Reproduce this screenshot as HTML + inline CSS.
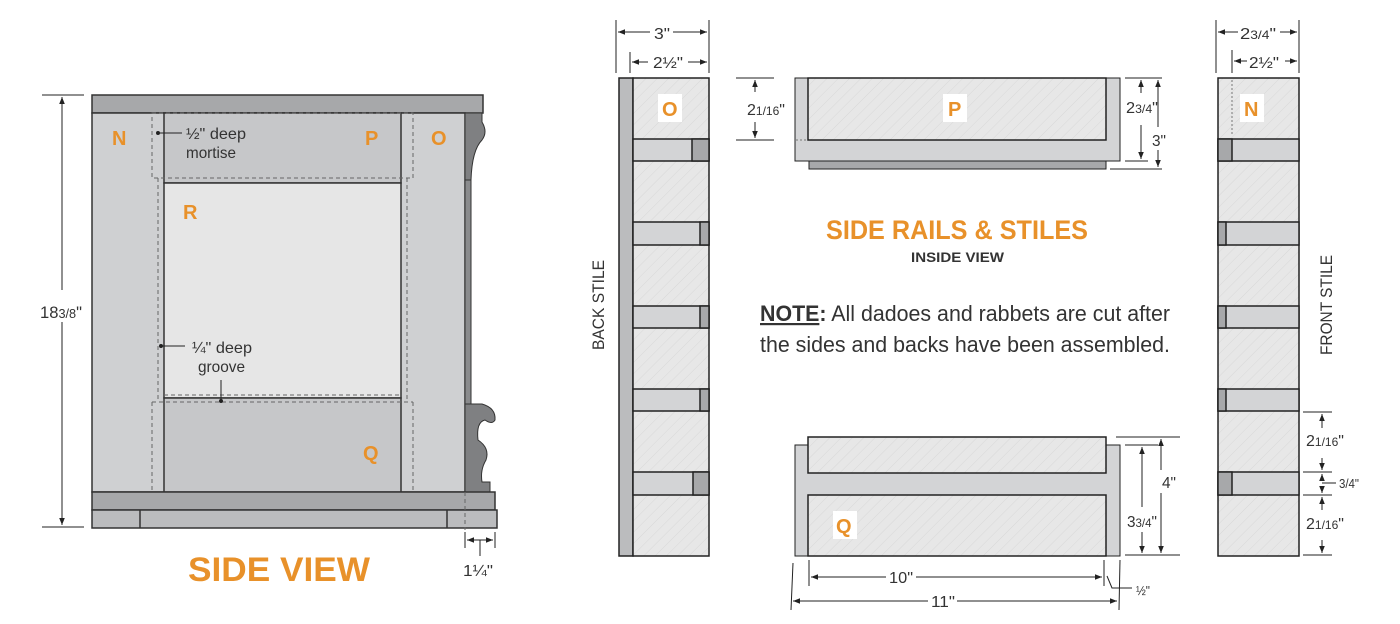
<!DOCTYPE html>
<html><head><meta charset="utf-8"><style>
html,body{margin:0;padding:0;background:#fff}
svg{display:block}
text{font-family:"Liberation Sans Narrow","Liberation Sans",sans-serif;fill:#333}
.o{fill:#e8912a;font-family:"Liberation Sans",sans-serif;font-weight:bold}
</style></head><body>
<svg width="1400" height="624" viewBox="0 0 1400 624" xmlns="http://www.w3.org/2000/svg">
<defs>
<pattern id="h" width="8" height="8" patternUnits="userSpaceOnUse" patternTransform="rotate(45)">
<rect width="8" height="8" fill="#e7e7e7"/><line x1="0" y1="0" x2="0" y2="8" stroke="#d8d8d8" stroke-width="1"/>
</pattern>
<marker id="a" viewBox="0 0 10 10" refX="10" refY="5" markerWidth="7" markerHeight="7" orient="auto-start-reverse"><path d="M0,1 L10,5 L0,9z" fill="#222"/></marker>
</defs>
<g stroke="#333" stroke-width="1.5">
<rect x="92" y="95" width="391" height="18" fill="#a7a8aa"/>
<rect x="92" y="113" width="373" height="379" fill="#cfd0d2"/>
<rect x="164" y="113" width="237" height="70" fill="#c6c7c9"/>
<rect x="164" y="183" width="237" height="215" fill="#e6e6e6"/>
<rect x="164" y="398" width="237" height="94" fill="#c6c7c9"/>
<rect x="465" y="113" width="6" height="379" fill="#8a8b8d" stroke-width="1"/>
<path d="M465,113 L482,113 L482,122 Q488,132 482,140 Q472,150 471,180 L465,180Z" fill="#7f8082" stroke-width="1"/>
<path d="M465,404 L482,404 Q496,408 495,420 Q492,425 485,420 Q476,422 478,440 Q490,448 486,460 Q480,470 482,482 L490,482 L490,492 L465,492Z" fill="#7f8082" stroke-width="1"/>
<rect x="92" y="492" width="403" height="18" fill="#a7a8aa"/>
<rect x="92" y="510" width="405" height="18" fill="#bbbcbe"/>
<line x1="140" y1="510" x2="140" y2="528"/><line x1="447" y1="510" x2="447" y2="528"/>
</g>
<g stroke="#666" stroke-width="1" stroke-dasharray="4,3" fill="none">
<rect x="152" y="113" width="261" height="65"/>
<path d="M152,402 L413,402 M152,402 L152,492 M413,402 L413,492"/>
<path d="M158,178 L158,402 M407,178 L407,402 M164,395 L401,395"/>
<path d="M465,492 L465,530"/>
</g>
<g stroke="#222" stroke-width="1">
<line x1="42" y1="95" x2="84" y2="95"/><line x1="42" y1="527" x2="84" y2="527"/>
<line x1="62" y1="97" x2="62" y2="290" marker-start="url(#a)"/><line x1="62" y1="322" x2="62" y2="525" marker-end="url(#a)"/>
<line x1="158" y1="133" x2="182" y2="133"/><circle cx="158" cy="133" r="1.5" fill="#222"/>
<line x1="161" y1="346" x2="185" y2="346"/><circle cx="161" cy="346" r="1.5" fill="#222"/>
<line x1="221" y1="380" x2="221" y2="401"/><circle cx="221" cy="401" r="1.5" fill="#222"/>
<line x1="465" y1="532" x2="465" y2="548"/><line x1="495" y1="532" x2="495" y2="548"/>
<line x1="467" y1="540" x2="493" y2="540" marker-start="url(#a)" marker-end="url(#a)"/>
<line x1="480" y1="540" x2="480" y2="556"/>
</g>
<text x="40" y="318" font-size="17" textLength="42" lengthAdjust="spacingAndGlyphs">18<tspan font-size="13">3/8</tspan>"</text>
<text x="186" y="139" font-size="16" textLength="60" lengthAdjust="spacingAndGlyphs">½" deep</text><text x="186" y="158" font-size="16" textLength="50" lengthAdjust="spacingAndGlyphs">mortise</text>
<text x="192" y="353" font-size="16" textLength="60" lengthAdjust="spacingAndGlyphs">¼" deep</text><text x="198" y="372" font-size="16" textLength="47" lengthAdjust="spacingAndGlyphs">groove</text>
<text x="463" y="576" font-size="16" textLength="30" lengthAdjust="spacingAndGlyphs">1¼"</text>
<text class="o" x="112" y="145" font-size="20">N</text>
<text class="o" x="365" y="145" font-size="20">P</text>
<text class="o" x="431" y="145" font-size="20">O</text>
<text class="o" x="183" y="219" font-size="20">R</text>
<text class="o" x="363" y="460" font-size="20">Q</text>
<text class="o" x="188" y="581" font-size="34" textLength="182" lengthAdjust="spacingAndGlyphs">SIDE VIEW</text>

<g stroke="#222" stroke-width="1.5">
<rect x="619" y="78" width="14" height="478" fill="#bbbcbe"/>
<rect x="633" y="78" width="76" height="478" fill="url(#h)"/>
<g fill="#d3d4d6">
<rect x="633" y="139" width="76" height="22"/><rect x="633" y="222" width="76" height="23"/>
<rect x="633" y="306" width="76" height="22"/><rect x="633" y="389" width="76" height="22"/>
<rect x="633" y="472" width="76" height="23"/>
</g>
<g fill="#a7a8aa">
<rect x="692" y="139" width="17" height="22"/><rect x="700" y="222" width="9" height="23"/>
<rect x="700" y="306" width="9" height="22"/><rect x="700" y="389" width="9" height="22"/>
<rect x="693" y="472" width="16" height="23"/>
</g>
<rect x="1218" y="78" width="81" height="478" fill="url(#h)"/>
<g fill="#d3d4d6">
<rect x="1218" y="139" width="81" height="22"/><rect x="1218" y="222" width="81" height="23"/>
<rect x="1218" y="306" width="81" height="22"/><rect x="1218" y="389" width="81" height="22"/>
<rect x="1218" y="472" width="81" height="23"/>
</g>
<g fill="#a7a8aa">
<rect x="1218" y="139" width="14" height="22"/><rect x="1218" y="222" width="8" height="23"/>
<rect x="1218" y="306" width="8" height="22"/><rect x="1218" y="389" width="8" height="22"/>
<rect x="1218" y="472" width="14" height="23"/>
</g>
<rect x="795" y="78" width="325" height="83" fill="#d3d4d6" stroke-width="1"/>
<rect x="809" y="161" width="297" height="8" fill="#a7a8aa" stroke-width="1"/>
<rect x="808" y="78" width="298" height="62" fill="url(#h)"/>
<rect x="795" y="445" width="325" height="111" fill="#d3d4d6" stroke-width="1"/>
<rect x="808" y="437" width="298" height="36" fill="url(#h)"/>
<rect x="808" y="495" width="298" height="61" fill="url(#h)"/>
</g>
<line x1="1232" y1="80" x2="1232" y2="135" stroke="#777" stroke-dasharray="2,2"/>
<line x1="796" y1="140" x2="806" y2="140" stroke="#777" stroke-dasharray="2,2"/>
<g fill="#fff"><rect x="658" y="94" width="24" height="28"/><rect x="1240" y="94" width="24" height="28"/><rect x="943" y="94" width="24" height="28"/><rect x="833" y="511" width="24" height="28"/></g>
<text class="o" x="662" y="116" font-size="20">O</text>
<text class="o" x="1244" y="116" font-size="20">N</text>
<text class="o" x="948" y="116" font-size="20">P</text>
<text class="o" x="836" y="533" font-size="20">Q</text>

<g stroke="#222" stroke-width="1">
<line x1="616" y1="20" x2="616" y2="73"/><line x1="709" y1="20" x2="709" y2="73"/><line x1="630" y1="52" x2="630" y2="73"/>
<line x1="618" y1="32" x2="650" y2="32" marker-start="url(#a)"/><line x1="673" y1="32" x2="707" y2="32" marker-end="url(#a)"/>
<line x1="632" y1="62" x2="648" y2="62" marker-start="url(#a)"/><line x1="688" y1="62" x2="707" y2="62" marker-end="url(#a)"/>
<line x1="1216" y1="20" x2="1216" y2="73"/><line x1="1299" y1="20" x2="1299" y2="73"/><line x1="1232" y1="50" x2="1232" y2="73"/>
<line x1="1218" y1="32" x2="1238" y2="32" marker-start="url(#a)"/><line x1="1280" y1="32" x2="1297" y2="32" marker-end="url(#a)"/>
<line x1="1234" y1="61" x2="1247" y2="61" marker-start="url(#a)"/><line x1="1285" y1="61" x2="1297" y2="61" marker-end="url(#a)"/>
<line x1="736" y1="78" x2="774" y2="78"/><line x1="736" y1="140" x2="774" y2="140"/>
<line x1="755" y1="80" x2="755" y2="92" marker-start="url(#a)"/><line x1="755" y1="122" x2="755" y2="138" marker-end="url(#a)"/>
<line x1="1125" y1="78" x2="1162" y2="78"/><line x1="1125" y1="161" x2="1148" y2="161"/><line x1="1110" y1="169" x2="1162" y2="169"/>
<line x1="1141" y1="80" x2="1141" y2="93" marker-start="url(#a)"/><line x1="1141" y1="125" x2="1141" y2="159" marker-end="url(#a)"/>
<line x1="1158" y1="80" x2="1158" y2="127" marker-start="url(#a)"/><line x1="1158" y1="150" x2="1158" y2="167" marker-end="url(#a)"/>
<line x1="1116" y1="437" x2="1180" y2="437"/><line x1="1125" y1="445" x2="1158" y2="445"/><line x1="1125" y1="555" x2="1180" y2="555"/>
<line x1="1142" y1="447" x2="1142" y2="507" marker-start="url(#a)"/><line x1="1142" y1="532" x2="1142" y2="553" marker-end="url(#a)"/>
<line x1="1161" y1="439" x2="1161" y2="470" marker-start="url(#a)"/><line x1="1161" y1="493" x2="1161" y2="553" marker-end="url(#a)"/>
<line x1="809" y1="560" x2="809" y2="586"/><line x1="1104" y1="560" x2="1104" y2="586"/><line x1="1120" y1="560" x2="1119" y2="610"/><line x1="793" y1="563" x2="791" y2="610"/>
<line x1="811" y1="577" x2="886" y2="577" marker-start="url(#a)"/><line x1="916" y1="577" x2="1102" y2="577" marker-end="url(#a)"/>
<line x1="793" y1="601" x2="928" y2="601" marker-start="url(#a)"/><line x1="957" y1="601" x2="1117" y2="601" marker-end="url(#a)"/>
<path d="M1107,576 L1112,588 L1132,588" fill="none"/>
<line x1="1303" y1="412" x2="1332" y2="412"/><line x1="1303" y1="472" x2="1332" y2="472"/><line x1="1303" y1="495" x2="1332" y2="495"/><line x1="1303" y1="555" x2="1332" y2="555"/>
<line x1="1322" y1="414" x2="1322" y2="428" marker-start="url(#a)"/><line x1="1322" y1="458" x2="1322" y2="470" marker-end="url(#a)"/>
<line x1="1322" y1="497" x2="1322" y2="510" marker-start="url(#a)"/><line x1="1322" y1="540" x2="1322" y2="553" marker-end="url(#a)"/>
<line x1="1322" y1="474" x2="1322" y2="480" marker-start="url(#a)"/><line x1="1322" y1="487" x2="1322" y2="493" marker-end="url(#a)"/>
<line x1="1322" y1="483" x2="1336" y2="483"/>
</g>
<text x="654" y="39" font-size="16" textLength="16" lengthAdjust="spacingAndGlyphs">3"</text>
<text x="653" y="68" font-size="16" textLength="30" lengthAdjust="spacingAndGlyphs">2½"</text>
<text x="1240" y="39" font-size="16" textLength="36" lengthAdjust="spacingAndGlyphs">2<tspan font-size="12">3/4</tspan>"</text>
<text x="1249" y="68" font-size="16" textLength="30" lengthAdjust="spacingAndGlyphs">2½"</text>
<text x="747" y="115" font-size="16" textLength="38" lengthAdjust="spacingAndGlyphs">2<tspan font-size="12">1/16</tspan>"</text>
<text x="1126" y="113" font-size="16" textLength="32" lengthAdjust="spacingAndGlyphs">2<tspan font-size="12">3/4</tspan>"</text>
<text x="1152" y="146" font-size="16" textLength="14" lengthAdjust="spacingAndGlyphs">3"</text>
<text x="1162" y="488" font-size="16" textLength="14" lengthAdjust="spacingAndGlyphs">4"</text>
<text x="1127" y="527" font-size="16" textLength="30" lengthAdjust="spacingAndGlyphs">3<tspan font-size="12">3/4</tspan>"</text>
<text x="889" y="583" font-size="16" textLength="24" lengthAdjust="spacingAndGlyphs">10"</text>
<text x="931" y="607" font-size="16" textLength="24" lengthAdjust="spacingAndGlyphs">11"</text>
<text x="1136" y="595" font-size="13" textLength="14" lengthAdjust="spacingAndGlyphs">½"</text>
<text x="1306" y="446" font-size="16" textLength="38" lengthAdjust="spacingAndGlyphs">2<tspan font-size="12">1/16</tspan>"</text>
<text x="1339" y="488" font-size="13" textLength="20" lengthAdjust="spacingAndGlyphs">3/4"</text>
<text x="1306" y="529" font-size="16" textLength="38" lengthAdjust="spacingAndGlyphs">2<tspan font-size="12">1/16</tspan>"</text>
<text transform="translate(604,350) rotate(-90)" font-size="17" textLength="90" lengthAdjust="spacingAndGlyphs">BACK STILE</text>
<text transform="translate(1332,355) rotate(-90)" font-size="17" textLength="100" lengthAdjust="spacingAndGlyphs">FRONT STILE</text>
<text class="o" x="826" y="239" font-size="27" textLength="262" lengthAdjust="spacingAndGlyphs">SIDE RAILS &amp; STILES</text>
<text x="911" y="262" font-size="14" font-weight="bold" font-family="Liberation Sans" fill="#222" textLength="93" lengthAdjust="spacingAndGlyphs">INSIDE VIEW</text>
<text x="760" y="321" font-size="22" textLength="410" lengthAdjust="spacingAndGlyphs"><tspan font-weight="bold" text-decoration="underline">NOTE</tspan><tspan font-weight="bold">:</tspan> All dadoes and rabbets are cut after</text>
<text x="760" y="352" font-size="22" textLength="410" lengthAdjust="spacingAndGlyphs">the sides and backs have been assembled.</text>
</svg>
</body></html>
